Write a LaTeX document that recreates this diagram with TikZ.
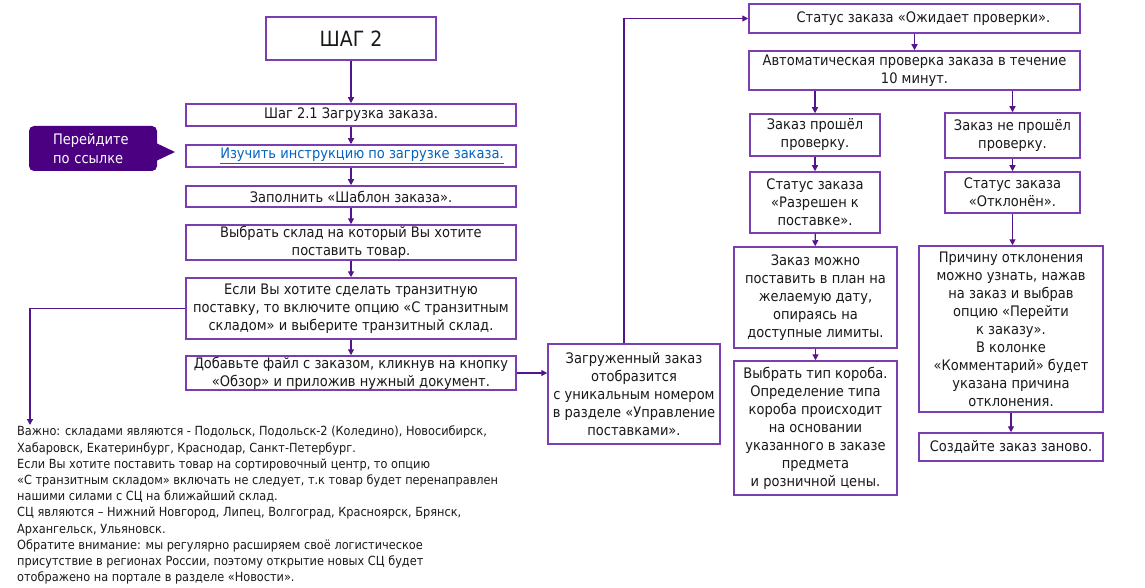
\documentclass[tikz,border=0pt]{standalone}
\usepackage{fontspec}
\IfFontExistsTF{DejaVu Sans Condensed}{\setmainfont{DejaVu Sans Condensed}}{\setmainfont{PT Sans}}
\usetikzlibrary{arrows.meta}
\definecolor{boxpurple}{RGB}{122,62,178}
\definecolor{linepurple}{RGB}{84,20,140}
\definecolor{hintpurple}{RGB}{74,0,128}
\definecolor{linkblue}{RGB}{5,99,193}
\definecolor{inktext}{RGB}{25,25,25}
\begin{document}
\begin{tikzpicture}[x=1pt,y=-1pt,
    box/.style={draw=boxpurple,line width=1.5pt,align=center,inner sep=0pt,
      text=inktext,font=\fontsize{14.5}{18}\selectfont},
    wide/.style={box,minimum width=330pt},
    flow/.style={draw=linepurple,line width=1.3pt,-{Triangle[length=6pt,width=6pt]}},
    hintbox/.style={fill=hintpurple,rounded corners=5pt,text=white,align=left,
      text width=80pt,minimum width=128pt,minimum height=45pt,inner sep=0pt,
      font=\fontsize{14.5}{18.5}\selectfont}]
  \useasboundingbox (0,0) rectangle (1145,588);
  \draw
    (351,38.5) node[box,minimum width=170pt,minimum height=43pt,
      font=\fontsize{21}{24}\selectfont] (step){ШАГ 2}
    (351,115) node[wide,minimum height=22pt] (load){Шаг 2.1 Загрузка заказа.}
    (351,156) node[wide,minimum height=22pt] (link){\hspace*{22pt}\textcolor{linkblue}{\underline{Изучить инструкцию по загрузке заказа.}}}
    (351,196.5) node[wide,minimum height=21pt] (fill){Заполнить «Шаблон заказа».}
    (351,242.5) node[wide,minimum height=35pt] (choose){Выбрать склад на который Вы хотите\\поставить товар.}
    (351,308.5) node[wide,minimum height=61pt] (transit){Если Вы хотите сделать транзитную\\поставку, то включите опцию «С транзитным\\складом» и выберите транзитный склад.}
    (351,373) node[wide,minimum height=34pt] (add){Добавьте файл с заказом, кликнув на кнопку\\«Обзор» и приложив нужный документ.}
    (634,394) node[box,minimum width=172pt,minimum height=100pt] (loaded){Загруженный заказ\\отобразится\\с уникальным номером\\в разделе «Управление\\поставками».}
    (914.5,18.5) node[box,minimum width=331pt,minimum height=29pt] (status){\hspace*{18pt}Статус заказа «Ожидает проверки».}
    (914.5,70.5) node[box,minimum width=331pt,minimum height=39pt] (auto){Автоматическая проверка заказа в течение\\10 минут.}
    (815,135) node[box,minimum width=130pt,minimum height=42pt] (passed){Заказ прошёл\\проверку.}
    (1012.5,135.5) node[box,minimum width=135pt,minimum height=45pt] (failed){Заказ не прошёл\\проверку.}
    (815,202.5) node[box,minimum width=130pt,minimum height=61pt] (allowed){Статус заказа\\«Разрешен к\\поставке».}
    (1012.5,192.5) node[box,minimum width=135pt,minimum height=41pt] (rejected){Статус заказа\\«Отклонён».}
    (815.5,297.5) node[box,minimum width=163pt,minimum height=101pt] (plan){Заказ можно\\поставить в план на\\желаемую дату,\\опираясь на\\доступные лимиты.}
    (815.5,428) node[box,minimum width=163pt,minimum height=134pt] (boxtype){Выбрать тип короба.\\Определение типа\\короба происходит\\на основании\\указанного в заказе\\предмета\\и розничной цены.}
    (1011,329) node[box,minimum width=184pt,minimum height=166pt] (reason){Причину отклонения\\можно узнать, нажав\\на заказ и выбрав\\опцию «Перейти\\к заказу».\\В колонке\\«Комментарий» будет\\указана причина\\отклонения.}
    (1011,447) node[box,minimum width=184pt,minimum height=28pt] (recreate){Создайте заказ заново.};
  \node[hintbox] (hint) at (93,148.5) {Перейдите\\по ссылке};
  \fill[hintpurple] (156,143) -- (175,152) -- (156,161) -- cycle;
  \node[anchor=north west,align=left,inner sep=0pt,text=inktext,font=\fontsize{12.6}{16.2}\selectfont] (note) at (17,426)
    {Важно: складами являются - Подольск, Подольск-2 (Коледино), Новосибирск,\\
     Хабаровск, Екатеринбург, Краснодар, Санкт-Петербург.\\
     Если Вы хотите поставить товар на сортировочный центр, то опцию\\
     «С транзитным складом» включать не следует, т.к товар будет перенаправлен\\
     нашими силами с СЦ на ближайший склад.\\
     СЦ являются – Нижний Новгород, Липец, Волгоград, Красноярск, Брянск,\\
     Архангельск, Ульяновск.\\
     Обратите внимание: мы регулярно расширяем своё логистическое\\
     присутствие в регионах России, поэтому открытие новых СЦ будет\\
     отображено на портале в разделе «Новости».};
  \coordinate (noteend) at (30,425);
  \begin{scope}[flow]
    \draw (step) to (load);
    \draw (load) to (link);
    \draw (link) to (fill);
    \draw (fill) to (choose);
    \draw (choose) to (transit);
    \draw (transit) to (add);
    \draw (transit.west) -| (noteend);
    \draw (add.east) -- (add.east -| loaded.west);
    \draw ([xshift=-10pt]loaded.north) |- (status.west);
    \draw (status) to (auto);
    \draw (auto.south -| passed.north) -- (passed.north);
    \draw (auto.south -| failed.north) -- (failed.north);
    \draw (passed) to (allowed);
    \draw (allowed) to (plan);
    \draw (plan) to (boxtype);
    \draw (failed) to (rejected);
    \draw (rejected.south) -- (rejected.south |- reason.north);
    \draw (reason.south) -- (reason.south |- recreate.north);
  \end{scope}
\end{tikzpicture}
\end{document}
